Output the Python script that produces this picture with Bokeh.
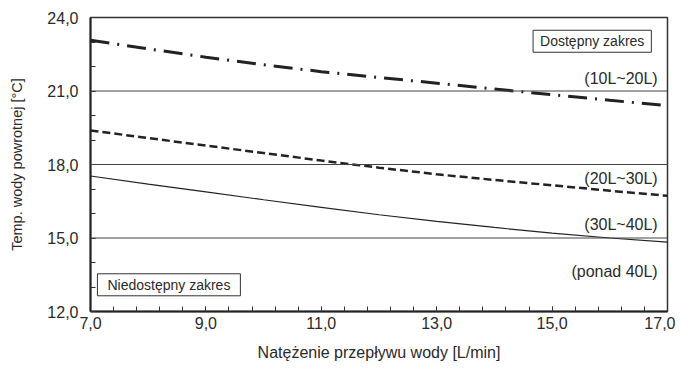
from bokeh.plotting import figure
from bokeh.models import FixedTicker, Label, Span
from bokeh.embed import file_html
from bokeh.resources import INLINE

# data
flow = [7.0, 8.0, 9.0, 10.0, 11.0, 12.0, 13.0, 14.0, 15.0, 16.0, 17.0]
t_10_20 = [23.07, 22.72, 22.38, 22.07, 21.79, 21.55, 21.32, 21.08, 20.85, 20.62, 20.4]
t_20_30 = [19.39, 19.08, 18.77, 18.47, 18.16, 17.87, 17.6, 17.37, 17.15, 16.93, 16.72]
t_30_40 = [17.53, 17.2, 16.88, 16.56, 16.25, 15.95, 15.68, 15.43, 15.2, 15.0, 14.83]
x_ticks = [7, 9, 11, 13, 15, 17]
x_tick_labels = ["7,0", "9,0", "11,0", "13,0", "15,0", "17,0"]
y_ticks = [12, 15, 18, 21, 24]
y_tick_labels = ["12,0", "15,0", "18,0", "21,0", "24,0"]
x_minor = [7 + 0.4 * i for i in range(26)]
y_minor = list(range(12, 25))
boundaries = [21, 18, 15]
range_names = ["(10L~20L)", "(20L~30L)", "(30L~40L)", "(ponad 40L)"]
range_label_y = [21.53, 17.43, 15.57, 13.62]

FONT = "Liberation Sans"
TXT = "#2a2a2a"

p = figure(width=675, height=363, x_range=(7, 17), y_range=(12, 24),
           output_backend="svg", toolbar_location=None,
           min_border_left=90, min_border_right=8, min_border_top=17, min_border_bottom=50)
p.xgrid.visible = False
p.ygrid.visible = False
p.outline_line_color = "#333333"
p.outline_line_width = 1.5
p.background_fill_color = "white"
p.border_fill_color = "white"

for ax in (p.xaxis[0], p.yaxis[0]):
    ax.axis_line_color = "#222222"
    ax.axis_line_width = 2
    ax.major_tick_in = 5
    ax.major_tick_out = 0
    ax.minor_tick_in = 5
    ax.minor_tick_out = 0
    ax.major_tick_line_color = "#333333"
    ax.minor_tick_line_color = "#333333"
    ax.major_label_text_font = FONT
    ax.major_label_text_font_size = "16px"
    ax.major_label_text_color = TXT
    ax.axis_label_text_font = FONT
    ax.axis_label_text_font_style = "normal"
    ax.axis_label_text_color = TXT

p.xaxis[0].ticker = FixedTicker(ticks=x_ticks, minor_ticks=x_minor)
p.xaxis[0].major_label_overrides = dict(zip(x_ticks, x_tick_labels))
p.xaxis[0].axis_label = "Natężenie przepływu wody [L/min]"
p.xaxis[0].axis_label_text_font_size = "16px"
p.xaxis[0].major_label_standoff = 5
p.xaxis[0].axis_label_standoff = 12

p.yaxis[0].ticker = FixedTicker(ticks=y_ticks, minor_ticks=y_minor)
p.yaxis[0].major_label_overrides = dict(zip(y_ticks, y_tick_labels))
p.yaxis[0].axis_label = "Temp. wody powrotnej [°C]"
p.yaxis[0].axis_label_text_font_size = "14.5px"
p.yaxis[0].major_label_standoff = 12
p.yaxis[0].axis_label_standoff = 19

for b in boundaries:
    p.add_layout(Span(location=b, dimension="width", line_color="#444444", line_width=1.2))

p.line(flow, t_10_20, line_color="#222222", line_width=3, line_dash="19 8 2 8")
p.line(flow, t_20_30, line_color="#222222", line_width=2.5, line_dash="8 4")
p.line(flow, t_30_40, line_color="#222222", line_width=1.2)

for name, yy in zip(range_names, range_label_y):
    p.add_layout(Label(x=16.83, y=yy, text=name, text_align="right", text_baseline="middle",
                       text_font=FONT, text_font_size="16px", text_color=TXT))

p.add_layout(Label(x=16.72, y=23.03, text="Dostępny zakres", text_align="right",
                   text_baseline="middle", text_font=FONT, text_font_size="14px",
                   text_color=TXT, border_line_color="#333333", border_line_width=1,
                   background_fill_color="white",
                   padding=dict(left=7, right=7, top=3, bottom=3)))
p.add_layout(Label(x=7.12, y=13.09, text="Niedostępny zakres", text_align="left",
                   text_baseline="middle", text_font=FONT, text_font_size="14px",
                   text_color=TXT, border_line_color="#333333", border_line_width=1,
                   background_fill_color="white",
                   padding=dict(left=10, right=10, top=3, bottom=3)))

open("out.html", "w").write(file_html(p, INLINE))
